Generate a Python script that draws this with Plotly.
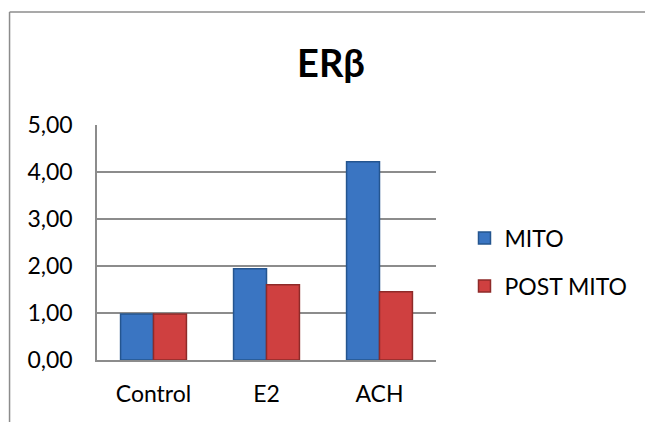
import plotly.graph_objects as go

categories = ["Control", "E2", "ACH"]
mito = [0.98, 1.94, 4.22]
post_mito = [0.98, 1.60, 1.45]
series_names = ["MITO", "POST MITO"]
y_ticks = [0, 1, 2, 3, 4, 5]
title_text = "ERβ"

FONT = "Lato, 'Open Sans', sans-serif"

fig = go.Figure()
fig.add_trace(go.Bar(
    x=categories, y=mito, name=series_names[0],
    marker=dict(color="#3A75C2", line=dict(color="#24558F", width=1.5)),
    legend="legend",
))
fig.add_trace(go.Bar(
    x=categories, y=post_mito, name=series_names[1],
    marker=dict(color="#CF4040", line=dict(color="#8E2A29", width=1.5)),
    legend="legend2",
))

W, H = 645, 422
L, R, T, B = 97, 203, 125, 62
pw, ph = W - L - R, H - T - B

def px(x):
    return (x - L) / pw

def py(y):
    return (H - B - y) / ph

fig.update_layout(
    width=W, height=H,
    margin=dict(l=L, r=R, t=T, b=B),
    paper_bgcolor="white", plot_bgcolor="white",
    separators=",.",
    barmode="group", bargap=0.417, bargroupgap=0,
    font=dict(family=FONT, size=22, color="black"),
    title=dict(text="<b>" + title_text + "</b>", x=331 / W, xanchor="center",
               y=1 - 64 / H, yanchor="middle", yref="container",
               font=dict(size=38, family=FONT, color="black")),
    xaxis=dict(showline=True, linecolor="#8C8C8C", linewidth=1.5, ticks="",
               tickfont=dict(size=23), showgrid=False, ticklabelstandoff=13),
    yaxis=dict(range=[0, 5], tickvals=y_ticks, tickformat=".2f",
               showline=True, linecolor="#8C8C8C", linewidth=1.5,
               showgrid=True, gridcolor="#8C8C8C", gridwidth=1.5,
               zeroline=False, ticks="", ticklen=0,
               tickfont=dict(size=23), ticklabelstandoff=18),
    legend=dict(x=px(471), y=py(238), xanchor="left", yanchor="middle",
                font=dict(size=23), bgcolor="rgba(0,0,0,0)", itemwidth=30),
    legend2=dict(x=px(471), y=py(286), xanchor="left", yanchor="middle",
                 font=dict(size=23), bgcolor="rgba(0,0,0,0)", itemwidth=30),
    showlegend=True,
)

# chart-area border (left and top edges visible)
fig.add_shape(type="line", xref="paper", yref="paper",
              x0=px(8), x1=px(8), y0=py(12), y1=py(440),
              line=dict(color="#8C8C8C", width=1.5))
fig.add_shape(type="line", xref="paper", yref="paper",
              x0=px(8), x1=px(660), y0=py(12), y1=py(12),
              line=dict(color="#8C8C8C", width=1.5))

fig.write_html("out.html", config={"displayModeBar": False},
               post_script="document.body.style.margin='0';")
